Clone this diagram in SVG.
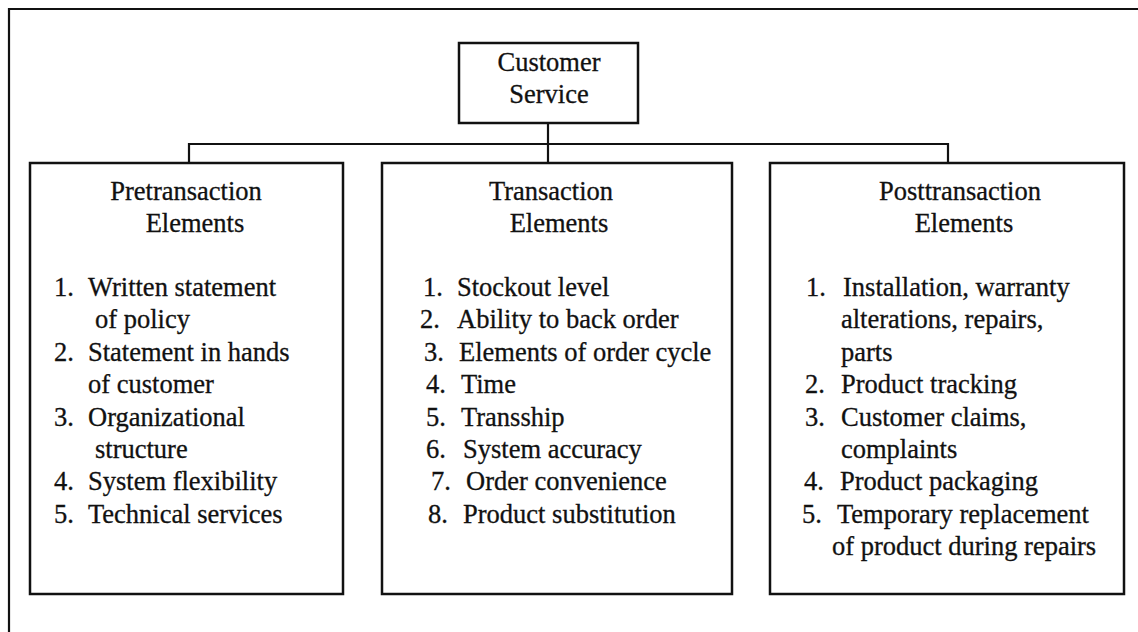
<svg xmlns="http://www.w3.org/2000/svg" width="1138" height="632" viewBox="0 0 1138 632">
<style>
.box{fill:#fff;stroke:#111;stroke-width:2.5}
.ln{fill:none;stroke:#111;stroke-width:2.2}
text{font-family:"Liberation Serif","Times New Roman",serif;font-size:26.5px;fill:#111;stroke:#111;stroke-width:0.3}
.c{text-anchor:middle}
</style>
<rect width="1138" height="632" fill="#fff"/>
<g id="frame"><path class="ln" d="M9,632 V9 H1138"/></g>
<g id="connectors">
<path class="ln" d="M548,123 V163"/>
<path class="ln" d="M189,163 V144 H948 V163"/>
</g>
<g id="customer-service">
<rect class="box" x="459" y="43" width="179" height="80"/>
<text class="c" x="549" y="71">Customer</text>
<text class="c" x="549" y="103">Service</text>
</g>
<g id="pretransaction">
<rect class="box" x="30" y="163" width="313" height="431"/>
<text class="c" x="186" y="200">Pretransaction</text>
<text class="c" x="195" y="232">Elements</text>
<text x="54" y="296">1.</text><text x="88" y="296">Written statement</text>
<text x="95" y="328">of policy</text>
<text x="54" y="361">2.</text><text x="88" y="361">Statement in hands</text>
<text x="88" y="393">of customer</text>
<text x="54" y="426">3.</text><text x="88" y="426">Organizational</text>
<text x="95" y="458">structure</text>
<text x="54" y="490">4.</text><text x="88" y="490">System flexibility</text>
<text x="54" y="523">5.</text><text x="88" y="523">Technical services</text>
</g>
<g id="transaction">
<rect class="box" x="382" y="163" width="350" height="431"/>
<text class="c" x="551" y="200">Transaction</text>
<text class="c" x="559" y="232">Elements</text>
<text x="423" y="296">1.</text><text x="457" y="296">Stockout level</text>
<text x="420" y="328">2.</text><text x="457" y="328">Ability to back order</text>
<text x="424" y="361">3.</text><text x="459" y="361">Elements of order cycle</text>
<text x="426" y="393">4.</text><text x="461" y="393">Time</text>
<text x="426" y="426">5.</text><text x="461" y="426">Transship</text>
<text x="426" y="458">6.</text><text x="463" y="458">System accuracy</text>
<text x="431" y="490">7.</text><text x="466" y="490">Order convenience</text>
<text x="428" y="523">8.</text><text x="463" y="523">Product substitution</text>
</g>
<g id="posttransaction">
<rect class="box" x="770" y="163" width="354" height="431"/>
<text class="c" x="960" y="200">Posttransaction</text>
<text class="c" x="964" y="232">Elements</text>
<text x="806" y="296">1.</text><text x="843" y="296">Installation, warranty</text>
<text x="841" y="328">alterations, repairs,</text>
<text x="841" y="361">parts</text>
<text x="805" y="393">2.</text><text x="841" y="393">Product tracking</text>
<text x="805" y="426">3.</text><text x="841" y="426">Customer claims,</text>
<text x="841" y="458">complaints</text>
<text x="804" y="490">4.</text><text x="840" y="490">Product packaging</text>
<text x="802" y="523">5.</text><text x="837" y="523">Temporary replacement</text>
<text x="832" y="555">of product during repairs</text>
</g>
</svg>
